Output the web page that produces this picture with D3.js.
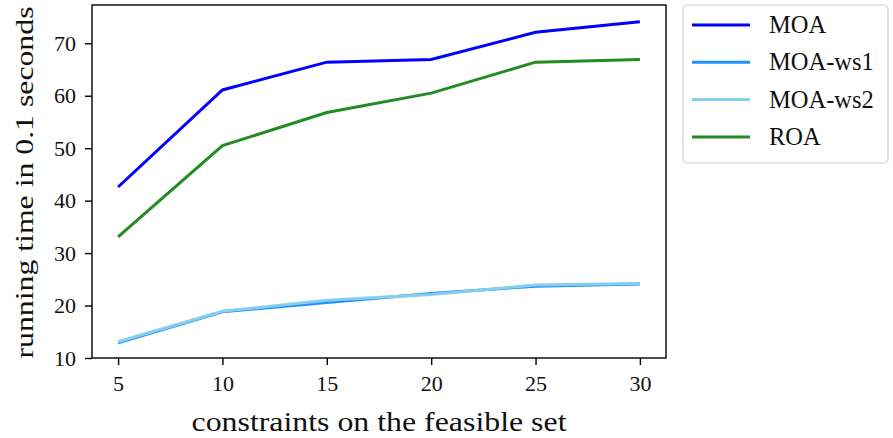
<!DOCTYPE html>
<html>
<head>
  <meta charset="UTF-8">
  <title>Running time</title>
  <script src="https://d3js.org/d3.v7.min.js"></script>
  <style>
    body { margin: 0; background: #fff; }
    text { font-family: "Liberation Serif", "DejaVu Serif", serif; fill: #111; }
  </style>
</head>
<body>
<div class="chart"></div>
<script>
  var constraints = [5, 10, 15, 20, 25, 30];
  var moa    = [42.6, 61.1, 66.4, 66.9, 72.1, 74.1];
  var moaWs1 = [12.9, 18.8, 20.6, 22.3, 23.7, 24.1];
  var moaWs2 = [13.1, 18.9, 21.0, 22.1, 23.9, 24.2];
  var roa    = [33.1, 50.5, 56.8, 60.5, 66.4, 66.9];
  var seriesNames = ['MOA', 'MOA-ws1', 'MOA-ws2', 'ROA'];
  var yTicks = [10, 20, 30, 40, 50, 60, 70];

  var series = [
    {name: seriesNames[0], values: moa,    color: '#0000ff'},
    {name: seriesNames[1], values: moaWs1, color: '#1e90ff'},
    {name: seriesNames[2], values: moaWs2, color: '#87ceeb'},
    {name: seriesNames[3], values: roa,    color: '#228b22'}
  ];

  var W = 893, H = 438;
  var margin = {top: 5, right: 227, bottom: 80, left: 92};
  var width = W - margin.left - margin.right;
  var height = H - margin.top - margin.bottom;

  var svg = d3.select('.chart').append('svg')
    .attr('width', W)
    .attr('height', H);

  var g = svg.append('g')
    .attr('transform', 'translate(' + margin.left + ',' + margin.top + ')');

  var x = d3.scaleLinear().domain([3.75, 31.25]).range([0, width]);
  var y = d3.scaleLinear().domain([10, 77.3]).range([height, 0]);

  var xAxis = g.append('g')
    .attr('transform', 'translate(0,' + height + ')')
    .call(d3.axisBottom(x).tickValues(constraints).tickSize(7).tickPadding(10).tickSizeOuter(0));
  var yAxis = g.append('g')
    .call(d3.axisLeft(y).tickValues(yTicks).tickSize(7).tickPadding(9).tickSizeOuter(0));

  [xAxis, yAxis].forEach(function(a) {
    a.select('.domain').remove();
    a.selectAll('line').attr('stroke', '#000').attr('stroke-width', 1.4);
    a.selectAll('text').style('font-size', '22px').attr('fill', '#111');
  });

  // frame
  g.append('rect')
    .attr('width', width).attr('height', height)
    .attr('fill', 'none').attr('stroke', '#000').attr('stroke-width', 1.4);

  var line = d3.line()
    .x(function(d, i) { return x(constraints[i]); })
    .y(function(d) { return y(d); });

  g.selectAll('path.series')
    .data(series)
    .enter().append('path')
    .attr('class', 'series')
    .attr('d', function(d) { return line(d.values); })
    .attr('fill', 'none')
    .attr('stroke', function(d) { return d.color; })
    .attr('stroke-width', 3);

  // axis labels
  svg.append('text')
    .attr('x', margin.left + width / 2)
    .attr('y', 431)
    .attr('text-anchor', 'middle')
    .attr('textLength', 375)
    .attr('lengthAdjust', 'spacingAndGlyphs')
    .style('font-size', '27px')
    .text('constraints on the feasible set');

  svg.append('text')
    .attr('transform', 'translate(33,' + (margin.top + height / 2 + 1) + ') rotate(-90)')
    .attr('text-anchor', 'middle')
    .attr('textLength', 352)
    .attr('lengthAdjust', 'spacingAndGlyphs')
    .style('font-size', '26px')
    .text('running time in 0.1 seconds');

  // legend
  var legend = svg.append('g').attr('transform', 'translate(683,5)');
  legend.append('rect')
    .attr('width', 205).attr('height', 158)
    .attr('rx', 4)
    .attr('fill', '#fff').attr('stroke', '#d0d0d0').attr('stroke-width', 1.2);

  var item = legend.selectAll('g.item')
    .data(series)
    .enter().append('g')
    .attr('class', 'item')
    .attr('transform', function(d, i) { return 'translate(0,' + (20 + i * 37.3) + ')'; });
  item.append('line')
    .attr('x1', 9).attr('x2', 67)
    .attr('stroke', function(d) { return d.color; })
    .attr('stroke-width', 3);
  item.append('text')
    .attr('x', 86).attr('y', 8)
    .style('font-size', '24.5px')
    .text(function(d) { return d.name; });
</script>
</body>
</html>
